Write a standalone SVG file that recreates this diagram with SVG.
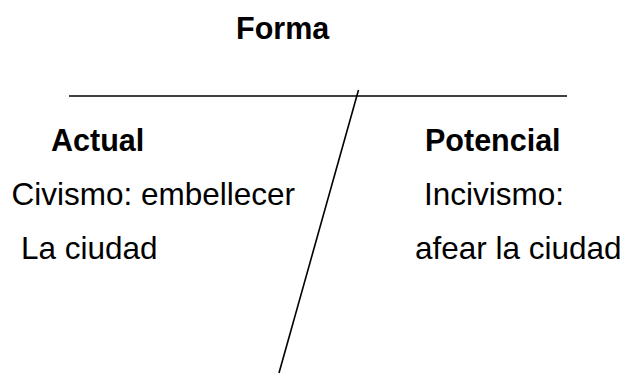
<svg xmlns="http://www.w3.org/2000/svg" width="629" height="374" viewBox="0 0 629 374">
<style>
.t{font-family:"Liberation Sans",Arial,sans-serif;font-size:31.5px;fill:#000}
.b{font-weight:bold;font-size:30.5px}
.ln{stroke:#000;stroke-width:1.6;fill:none}
</style>
<rect width="629" height="374" fill="#fff"/>
<g id="connectors">
<line class="ln" x1="69" y1="96" x2="567" y2="96"/>
<line class="ln" x1="358.5" y1="90" x2="279" y2="373"/>
</g>
<g id="title"><text class="t b" x="236" y="39">Forma</text></g>
<g id="actual">
<text class="t b" x="51" y="151">Actual</text>
<text class="t" x="11.5" y="205">Civismo: embellecer</text>
<text class="t" x="21" y="259">La ciudad</text>
</g>
<g id="potencial">
<text class="t b" x="425" y="151">Potencial</text>
<text class="t" x="424" y="205">Incivismo:</text>
<text class="t" x="415" y="259">afear la ciudad</text>
</g>
</svg>
